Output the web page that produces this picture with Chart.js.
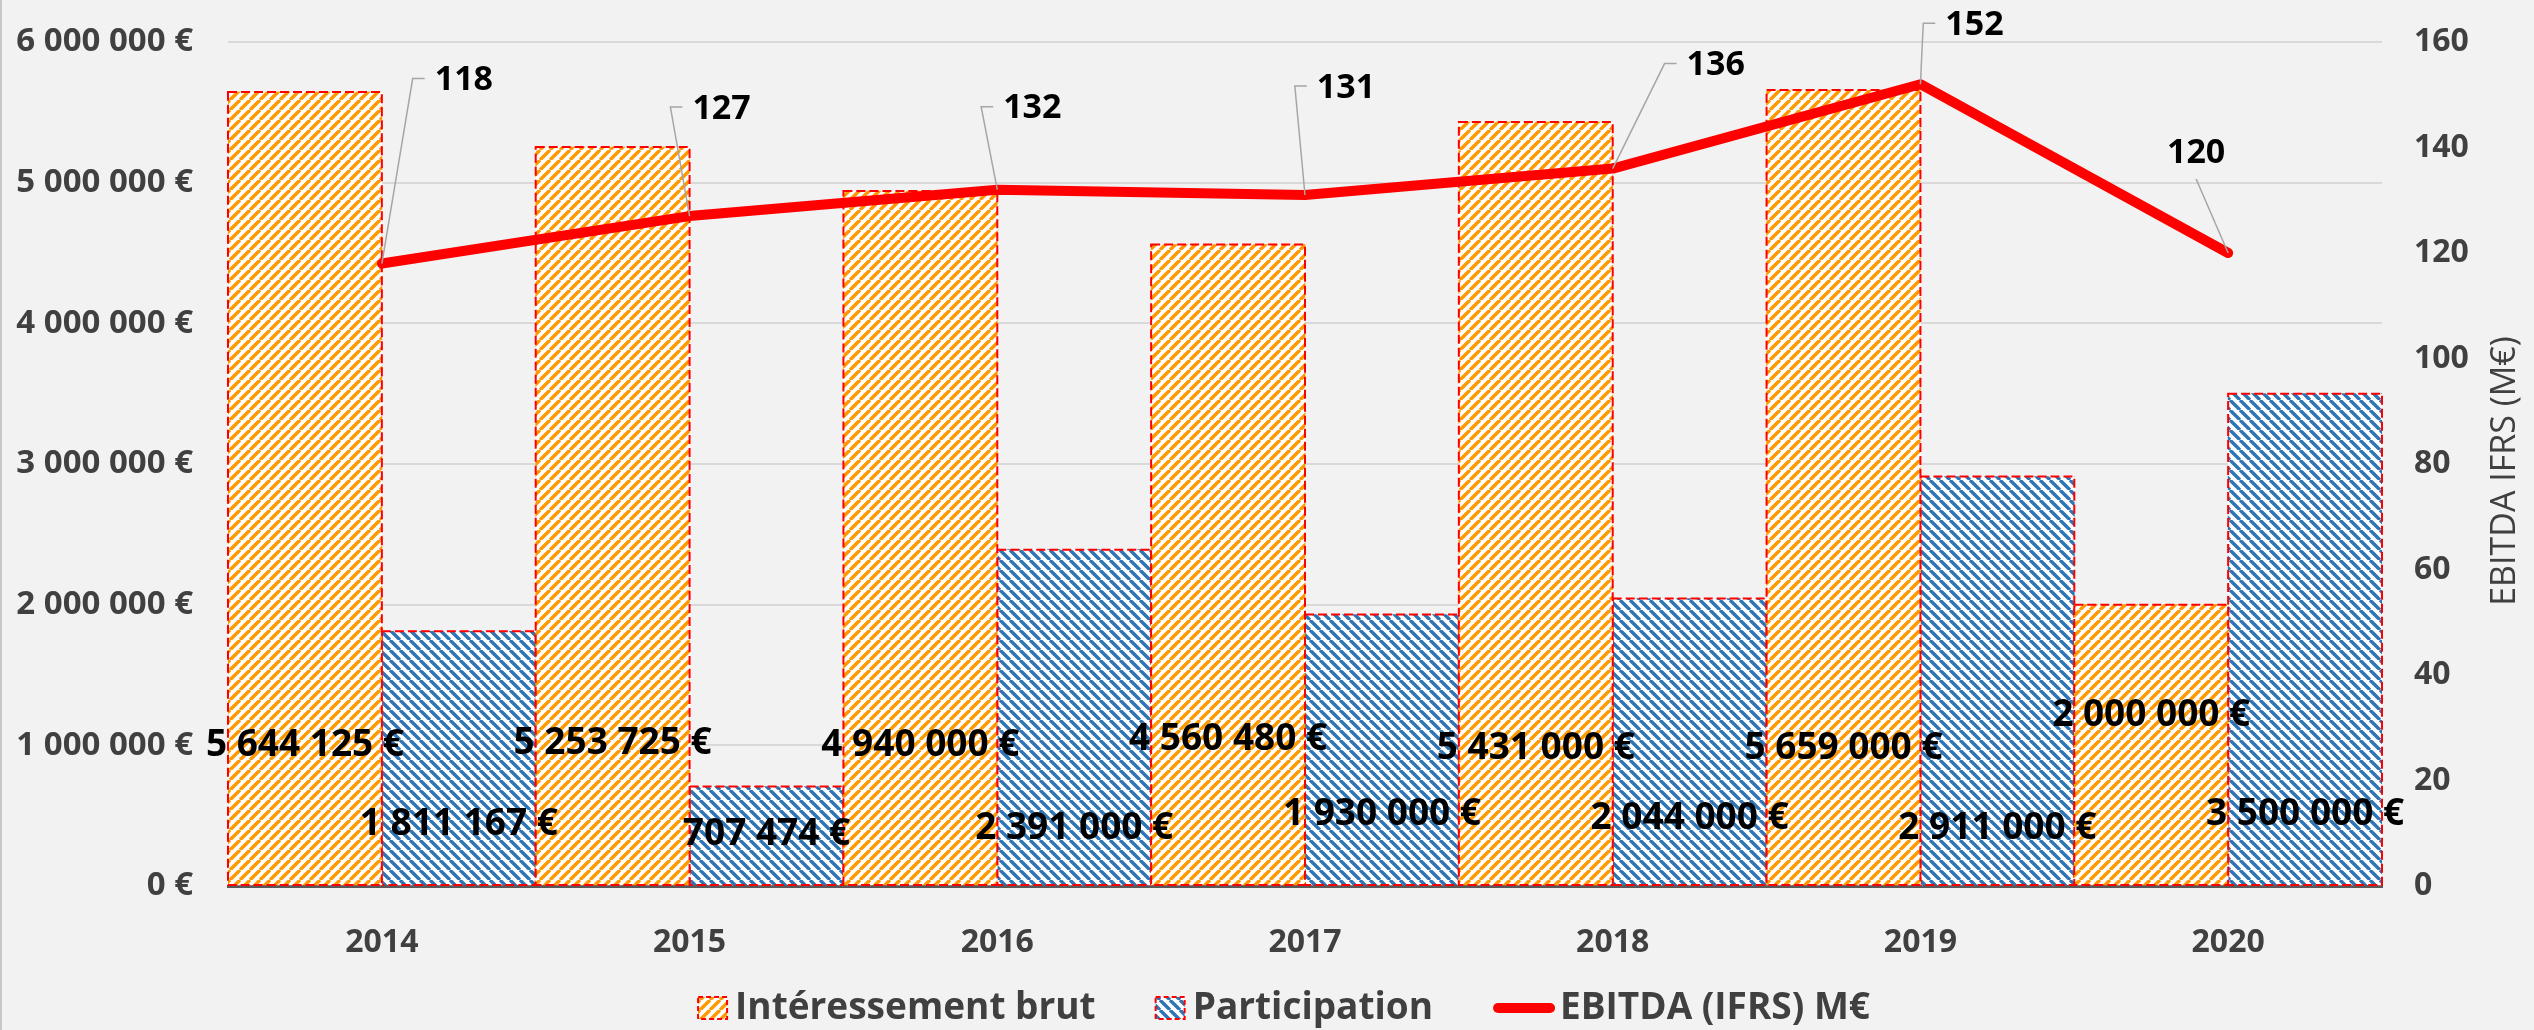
<!DOCTYPE html>
<html>
<head>
<meta charset="utf-8">
<title>Intéressement et participation</title>
<script src="https://cdn.jsdelivr.net/npm/chart.js@4.4.1/dist/chart.umd.min.js"></script>
<style>
    html, body { margin: 0; padding: 0; background: #f2f2f2; }
    #cadre { width: 2534px; height: 1030px; position: relative; }
</style>
</head>
<body>
<div id="cadre"><canvas id="myChart"></canvas></div>
<script>
const annees = ["2014", "2015", "2016", "2017", "2018", "2019", "2020"]
const interessement = [5644125, 5253725, 4940000, 4560480, 5431000, 5659000, 2000000]
const participation = [1811167, 707474, 2391000, 1930000, 2044000, 2911000, 3500000]
const ebitda = [118, 127, 132, 131, 136, 152, 120]

const ticksEuros = [0, 1000000, 2000000, 3000000, 4000000, 5000000, 6000000]
const ticksEbitda = [0, 20, 40, 60, 80, 100, 120, 140, 160]

// hauteur (en €) où Excel a posé les étiquettes des barres
const hautEtiqInt = [1000000, 1010000, 1000000, 1040000, 980000, 980000, 1210000]
const hautEtiqPart = [440000, 370000, 410000, 510000, 480000, 410000, 510000]
// décalage des étiquettes EBITDA par rapport au point (px)
const decalEbitda = [[82, -183], [32, -107], [35, -81], [41, -107], [103, -103], [54, -59], [-32, -100]]

const gris = "#404040"

function hachure (couleur, sens) {
    const t = 10
    const c = document.createElement("canvas")
    c.width = t; c.height = t
    const x = c.getContext("2d")
    x.fillStyle = "#ffffff"
    x.fillRect(0, 0, t, t)
    x.strokeStyle = couleur
    x.lineWidth = 3.4
    x.beginPath()
    for (let k = -1; k <= 1; k++) {
        if (sens > 0) { x.moveTo(k * t, t); x.lineTo(k * t + t, 0) }
        else { x.moveTo(k * t, 0); x.lineTo(k * t + t, t) }
    }
    x.stroke()
    return x.createPattern(c, "repeat")
}

function euros (v) {
    return String(v).replace(/\B(?=(\d{3})+(?!\d))/g, " ") + " €"
}

const motifOrange = hachure("#FF9900", 1)
const motifBleu = hachure("#2E75B6", -1)

// pas de marge automatique au-dessus / au-dessous des axes verticaux
function sansMarge (s, largeur) {
    s.width = largeur
    s.paddingTop = 0
    s.paddingBottom = 0
}

const decor = {
    id: "decor",
    beforeDraw (chart) {
        const ctx = chart.ctx
        ctx.save()
        ctx.fillStyle = "#f2f2f2"
        ctx.fillRect(0, 0, chart.width, chart.height)
        ctx.fillStyle = "#c8c8c8"
        ctx.fillRect(0, 0, 2, chart.height)
        ctx.restore()
    },
    afterDatasetDraw (chart, args) {
        if (args.meta.type !== "bar") return
        const ctx = chart.ctx
        ctx.save()
        ctx.setLineDash([9, 4])
        ctx.strokeStyle = "#FF0000"
        ctx.lineWidth = 2
        args.meta.data.forEach(b => {
            const p = b.getProps(["x", "y", "base", "width"], true)
            ctx.strokeRect(p.x - p.width / 2, p.y, p.width, p.base - p.y)
        })
        ctx.restore()
    },
    afterDatasetsDraw (chart) {
        const ctx = chart.ctx
        const y = chart.scales.y
        ctx.save()
        ctx.fillStyle = "#000000"
        ctx.textAlign = "center"
        ctx.textBaseline = "middle"
        ctx.font = 'bold 37px "Open Sans"'
        chart.getDatasetMeta(0).data.forEach((b, i) => {
            ctx.fillText(euros(interessement[i]), b.x, y.getPixelForValue(hautEtiqInt[i]))
        })
        chart.getDatasetMeta(1).data.forEach((b, i) => {
            ctx.fillText(euros(participation[i]), b.x, y.getPixelForValue(hautEtiqPart[i]))
        })

        // étiquettes EBITDA avec traits de rappel
        ctx.font = 'bold 34px "Open Sans"'
        chart.getDatasetMeta(2).data.forEach((pt, i) => {
            const txt = String(ebitda[i])
            const w = ctx.measureText(txt).width
            const cx = pt.x + decalEbitda[i][0]
            const cy = pt.y + decalEbitda[i][1]
            ctx.strokeStyle = "#a6a6a6"
            ctx.lineWidth = 1.5
            ctx.beginPath()
            ctx.moveTo(pt.x, pt.y)
            if (decalEbitda[i][0] > 0) {
                ctx.lineTo(cx - w / 2 - 22, cy - 2)
                ctx.lineTo(cx - w / 2 - 10, cy - 2)
            } else {
                ctx.lineTo(cx, cy + 26)
            }
            ctx.stroke()
            ctx.fillText(txt, cx, cy)
        })
        ctx.restore()
    },
    afterDraw (chart) {
        const ctx = chart.ctx
        const a = chart.chartArea
        ctx.save()
        // titre de l'axe de droite
        ctx.fillStyle = gris
        ctx.font = '34px "Open Sans"'
        ctx.textAlign = "center"
        ctx.textBaseline = "middle"
        ctx.translate(chart.scales.y1.right - 29, (a.top + a.bottom) / 2 + 7)
        ctx.rotate(-Math.PI / 2)
        ctx.fillText("EBITDA IFRS (M€)", 0, 0)
        ctx.restore()

        // légende
        ctx.save()
        ctx.font = 'bold 37px "Open Sans"'
        ctx.textBaseline = "middle"
        const ds = chart.data.datasets
        const largeurs = ds.map((d, i) => (i < 2 ? 29 + 8 : 62 + 5) + ctx.measureText(d.label).width)
        const ecart = 60
        const total = largeurs.reduce((s, v) => s + v, 0) + ecart * (ds.length - 1)
        let x = chart.width / 2 + 17 - total / 2
        const yl = 1008
        ds.forEach((d, i) => {
            if (i < 2) {
                ctx.fillStyle = d.backgroundColor
                ctx.fillRect(x, yl - 11, 29, 22)
                ctx.setLineDash([5, 3])
                ctx.strokeStyle = "#FF0000"
                ctx.lineWidth = 2
                ctx.strokeRect(x, yl - 11, 29, 22)
                ctx.setLineDash([])
                ctx.fillStyle = gris
                ctx.fillText(d.label, x + 37, yl)
            } else {
                ctx.strokeStyle = "#FF0000"
                ctx.lineWidth = 10
                ctx.lineCap = "round"
                ctx.beginPath()
                ctx.moveTo(x + 5, yl)
                ctx.lineTo(x + 57, yl)
                ctx.stroke()
                ctx.fillStyle = gris
                ctx.fillText(d.label, x + 67, yl)
            }
            x += largeurs[i] + ecart
        })
        ctx.restore()
    }
}

const grafico = document.getElementById("myChart").getContext("2d")
const myChart = new Chart(grafico, {
    type: "bar",
    data: {
        labels: annees,
        datasets: [
            {
                label: "Intéressement brut",
                data: interessement,
                backgroundColor: motifOrange,
                borderWidth: 0,
                categoryPercentage: 1,
                barPercentage: 1,
                yAxisID: "y",
                order: 1
            },
            {
                label: "Participation",
                data: participation,
                backgroundColor: motifBleu,
                borderWidth: 0,
                categoryPercentage: 1,
                barPercentage: 1,
                yAxisID: "y",
                order: 1
            },
            {
                type: "line",
                label: "EBITDA (IFRS) M€",
                data: ebitda,
                borderColor: "#FF0000",
                backgroundColor: "#FF0000",
                borderWidth: 10,
                borderCapStyle: "round",
                borderJoinStyle: "round",
                pointRadius: 0,
                tension: 0,
                yAxisID: "y1",
                order: 0
            }
        ]
    },
    options: {
        responsive: true,
        maintainAspectRatio: false,
        animation: false,
        layout: { padding: { top: 42, left: 0, right: 0, bottom: 0 } },
        plugins: {
            legend: { display: false },
            tooltip: { enabled: false },
            title: { display: false }
        },
        scales: {
            x: {
                grid: { display: false },
                border: { color: "#595959", width: 3 },
                ticks: { color: gris, padding: 30, font: { family: "Open Sans", size: 32, weight: "bold" } },
                afterFit: s => { s.height = 144 }
            },
            y: {
                position: "left",
                min: 0,
                max: 6000000,
                afterBuildTicks: s => { s.ticks = ticksEuros.map(v => ({ value: v })) },
                grid: { color: "#d9d9d9", lineWidth: 2, drawTicks: false },
                border: { display: false },
                ticks: {
                    color: gris,
                    padding: 35,
                    font: { family: "Open Sans", size: 33, weight: "bold" },
                    callback: v => euros(v)
                },
                afterFit: s => sansMarge(s, 228)
            },
            y1: {
                position: "right",
                min: 0,
                max: 160,
                afterBuildTicks: s => { s.ticks = ticksEbitda.map(v => ({ value: v })) },
                grid: { display: false, drawTicks: false },
                border: { display: false },
                ticks: {
                    color: gris,
                    padding: 32,
                    font: { family: "Open Sans", size: 32, weight: "bold" }
                },
                afterFit: s => sansMarge(s, 152)
            }
        }
    },
    plugins: [decor]
})
</script>
</body>
</html>
